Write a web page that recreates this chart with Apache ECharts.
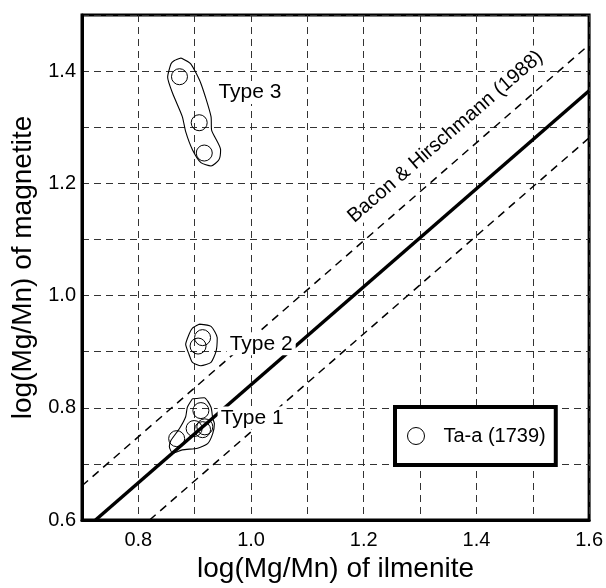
<!DOCTYPE html>
<html>
<head>
<meta charset="utf-8">
<script src="https://cdn.jsdelivr.net/npm/echarts@6/dist/echarts.min.js"></script>
<style>html,body{margin:0;padding:0;background:#fff}#c{width:606px;height:588px}</style>
</head>
<body>
<div id="c"></div>
<script>
// ---- data ----
var xTicks = [0.8, 1.0, 1.2, 1.4, 1.6];
var yTicks = [0.6, 0.8, 1.0, 1.2, 1.4];
var points = [
  [0.873, 1.390], [0.908, 1.308], [0.917, 1.254],
  [0.914, 0.925], [0.906, 0.910],
  [0.911, 0.795], [0.899, 0.763], [0.914, 0.761], [0.918, 0.766], [0.868, 0.745]
];
var bhLine = [[0.724, 0.6], [1.6, 1.365]];
var bhUpper = [[0.7, 0.661], [1.6, 1.447]];
var bhLower = [[0.82, 0.6], [1.6, 1.281]];
var env3 = [[0.876,1.4235],[0.893,1.413],[0.911,1.378],[0.929,1.319],[0.930,1.295],[0.946,1.260],[0.943,1.242],[0.929,1.231],[0.911,1.237],[0.896,1.260],[0.884,1.292],[0.878,1.319],[0.861,1.360],[0.852,1.389],[0.858,1.413],[0.864,1.419],[0.876,1.4235]];
var env2 = [[0.908,0.949],[0.929,0.945],[0.940,0.925],[0.938,0.901],[0.929,0.881],[0.911,0.875],[0.896,0.881],[0.890,0.895],[0.884,0.913],[0.890,0.931],[0.896,0.942],[0.908,0.949]];
var env1 = [[0.896,0.816],[0.917,0.818],[0.929,0.801],[0.932,0.781],[0.935,0.772],[0.932,0.754],[0.923,0.736],[0.905,0.728],[0.878,0.725],[0.861,0.719],[0.855,0.731],[0.858,0.742],[0.873,0.763],[0.884,0.784],[0.887,0.801],[0.896,0.816]];
var typeLabels = [
  {name: 'Type 3', value: [0.998, 1.362]},
  {name: 'Type 2', value: [1.018, 0.914]},
  {name: 'Type 1', value: [1.002, 0.782]}
];
var bhLabel = {name: 'Bacon & Hirschmann (1988)', value: [1.345, 1.283]};
var seriesName = 'Ta-a (1739)';

var FONT = '"Liberation Sans", Arial, Helvetica, sans-serif';
function fmt(list) {
  return function (v) {
    for (var i = 0; i < list.length; i++) if (Math.abs(list[i] - v) < 1e-6) return list[i].toFixed(1);
    return '';
  };
}
var gridLine = {show: true, lineStyle: {color: '#333', width: 1, type: [7, 5]}};
function envSeries(d) {
  return {type: 'line', data: d, symbol: 'none', smooth: 0.2, silent: true,
    lineStyle: {color: '#000', width: 1.1}, z: 3};
}
var chart = echarts.init(document.getElementById('c'), null, {renderer: 'canvas'});
chart.setOption({
  animation: false,
  backgroundColor: '#fff',
  grid: {left: 82, right: 15, top: 15, bottom: 64, show: true, borderColor: '#000', borderWidth: 3, backgroundColor: 'transparent'},
  xAxis: {
    type: 'value', min: 0.7, max: 1.6, interval: 0.1,
    name: 'log(Mg/Mn) of ilmenite', nameLocation: 'middle', nameGap: 35,
    nameTextStyle: {fontFamily: FONT, fontSize: 28, color: '#000'},
    axisLine: {show: true, lineStyle: {color: '#000', width: 3}},
    axisTick: {show: false},
    axisLabel: {formatter: fmt(xTicks), fontFamily: FONT, fontSize: 20, color: '#000', margin: 10, showMaxLabel: true, showMinLabel: true},
    splitLine: gridLine
  },
  yAxis: {
    type: 'value', min: 0.6, max: 1.5, interval: 0.1,
    name: 'log(Mg/Mn) of magnetite', nameLocation: 'middle', nameGap: 45,
    nameTextStyle: {fontFamily: FONT, fontSize: 28, color: '#000'},
    axisLine: {show: true, lineStyle: {color: '#000', width: 3}},
    axisTick: {show: false},
    axisLabel: {formatter: fmt(yTicks), fontFamily: FONT, fontSize: 20, color: '#000', margin: 6},
    splitLine: gridLine
  },
  legend: {
    show: true, left: 395, top: 407, orient: 'horizontal',
    data: [{name: seriesName, icon: 'circle'}],
    backgroundColor: '#fff', borderColor: '#000', borderWidth: 4, borderRadius: 0,
    padding: [19, 10, 19, 12], itemWidth: 17, itemHeight: 17, itemGap: 10,
    textStyle: {fontFamily: FONT, fontSize: 20, color: '#000', padding: [0, 0, 0, 14]},
    itemStyle: {color: 'rgba(0,0,0,0)', borderColor: '#000', borderWidth: 1, opacity: 1}
  },
  series: [
    {type: 'line', data: bhUpper, symbol: 'none', silent: true, lineStyle: {color: '#000', width: 1.5, type: [8, 6]}, z: 2},
    {type: 'line', data: bhLower, symbol: 'none', silent: true, lineStyle: {color: '#000', width: 1.5, type: [8, 6]}, z: 2},
    {type: 'line', data: bhLine, symbol: 'none', silent: true, lineStyle: {color: '#000', width: 3.5}, z: 2},
    envSeries(env3), envSeries(env2), envSeries(env1),
    {type: 'scatter', name: seriesName, data: points, symbol: 'circle', symbolSize: 16,
      itemStyle: {color: 'rgba(0,0,0,0)', borderColor: '#000', borderWidth: 1, opacity: 1}, z: 4},
    {type: 'scatter', data: typeLabels, symbolSize: 0, silent: true, z: 5,
      itemStyle: {opacity: 1},
      label: {show: true, position: 'inside', formatter: '{b}', fontFamily: FONT, fontSize: 21, color: '#000',
        backgroundColor: '#fff', padding: [1, 3]}},
    {type: 'scatter', data: [bhLabel], symbolSize: 0, silent: true, z: 5,
      itemStyle: {opacity: 1},
      label: {show: true, position: 'inside', formatter: '{b}', rotate: 41, fontFamily: FONT, fontSize: 20, color: '#000',
        backgroundColor: '#fff', padding: [1, 3]}}
  ]
});
</script>
</body>
</html>
